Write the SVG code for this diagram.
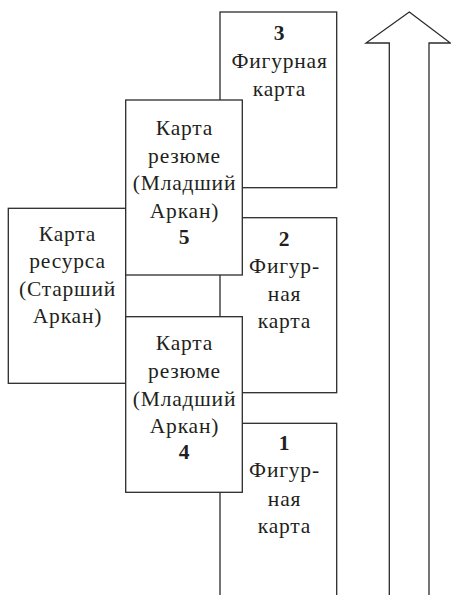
<svg xmlns="http://www.w3.org/2000/svg" width="451" height="595" viewBox="0 0 451 595">
<style>
.card{fill:#fff;stroke:#2b2b2b;stroke-width:1.3}
.t{font-family:"Liberation Serif","Times New Roman",serif;font-size:21.5px;letter-spacing:0.8px;fill:#231f20;text-anchor:middle}
.b{font-weight:bold}
</style>
<rect width="451" height="595" fill="#fff"/>
<g id="arrow">
<polygon class="card" points="409.3,12 450.4,43 429,43 429,600 389.3,600 389.3,43 366,43"/>
</g>
<g id="card3">
<rect class="card" x="220" y="12" width="116.7" height="175.7"/>
<text class="t b" x="279.5" y="39.5">3</text>
<text class="t" x="279.5" y="68">Фигурная</text>
<text class="t" x="279.5" y="95.5">карта</text>
</g>
<g id="card2">
<rect class="card" x="220" y="217.7" width="116.7" height="175"/>
<text class="t b" x="284.5" y="245.5">2</text>
<text class="t" x="284.5" y="273.3">Фигур-</text>
<text class="t" x="284.5" y="301">ная</text>
<text class="t" x="284.5" y="327.7">карта</text>
</g>
<g id="card1">
<rect class="card" x="220" y="423.3" width="116.7" height="180"/>
<text class="t b" x="284.5" y="450">1</text>
<text class="t" x="284.5" y="477.3">Фигур-</text>
<text class="t" x="284.5" y="505.5">ная</text>
<text class="t" x="284.5" y="533">карта</text>
</g>
<g id="resource">
<rect class="card" x="8.3" y="208.3" width="117.4" height="175"/>
<text class="t" x="67.5" y="240.7">Карта</text>
<text class="t" x="67.5" y="268">ресурса</text>
<text class="t" x="67.5" y="296">(Старший</text>
<text class="t" x="67.5" y="323">Аркан)</text>
</g>
<g id="card5">
<rect class="card" x="125.7" y="100" width="116.6" height="175"/>
<text class="t" x="184.5" y="135">Карта</text>
<text class="t" x="184.5" y="163">резюме</text>
<text class="t" x="184.5" y="190">(Младший</text>
<text class="t" x="184.5" y="217.7">Аркан)</text>
<text class="t b" x="184.5" y="244">5</text>
</g>
<g id="card4">
<rect class="card" x="125.7" y="316.7" width="116.6" height="175.6"/>
<text class="t" x="184.5" y="350">Карта</text>
<text class="t" x="184.5" y="377.7">резюме</text>
<text class="t" x="184.5" y="406">(Младший</text>
<text class="t" x="184.5" y="432.7">Аркан)</text>
<text class="t b" x="184.5" y="459.3">4</text>
</g>
<g id="connectors"/>
</svg>
